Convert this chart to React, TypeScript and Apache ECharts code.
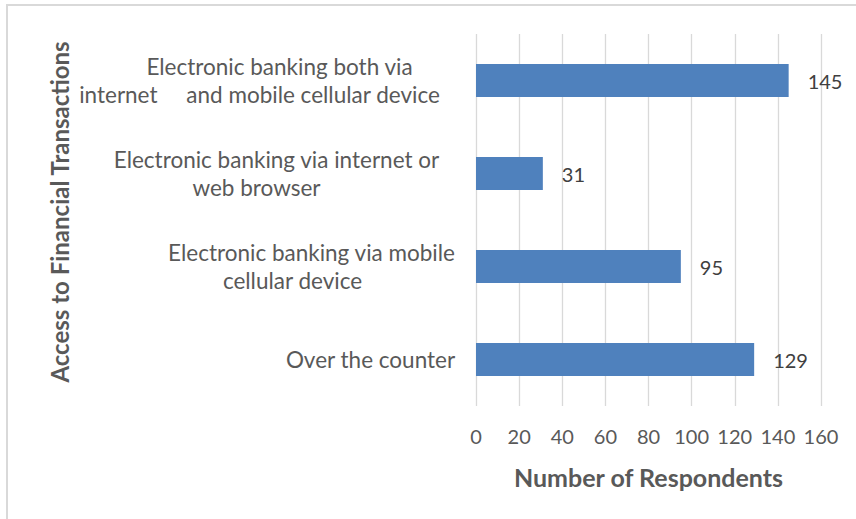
import React, { useEffect, useRef } from "react";
import * as echarts from "echarts";

const categories: string[] = [
  "Electronic banking both via\ninternet     and mobile cellular device",
  "Electronic banking via internet or\nweb browser",
  "Electronic banking via mobile\ncellular device",
  "Over the counter",
];
const respondents: number[] = [145, 31, 95, 129];
const xMin = 0;
const xMax = 160;
const xStep = 20;
const xTitle = "Number of Respondents";
const yTitle = "Access to Financial Transactions";

// distance (px) of each label line's centre from the label anchor (styling only)
const lineOffsets: number[][] = [
  [173, 193],
  [176, 196],
  [141, 160],
  [82],
];

const FONT = "Lato, 'Open Sans', sans-serif";
const GRAY = "#595959";

export default function App() {
  const ref = useRef<HTMLDivElement>(null);
  useEffect(() => {
    if (!ref.current) return;
    const chart = echarts.init(ref.current, undefined, { renderer: "svg" });
    const T = 220;
    const rich: Record<string, any> = {};
    lineOffsets.forEach((lines, i) =>
      lines.forEach((pr, j) => {
        rich[`l${i}_${j}`] = {
          width: 1,
          align: "center",
          padding: [0, pr, 0, T - 1 - pr],
          lineHeight: 28,
          fontSize: 22.5,
          fontFamily: FONT,
          color: GRAY,
        };
      })
    );
    chart.setOption({
      animation: false,
      backgroundColor: "#ffffff",
      graphic: [
        {
          type: "rect",
          shape: { x: 7, y: 5, width: 900, height: 560 },
          style: { fill: "none", stroke: "#d9d9d9", lineWidth: 2 },
          silent: true,
          z: -1,
        },
      ],
      grid: { left: 476, right: 35, top: 34, bottom: 113, containLabel: false },
      xAxis: {
        type: "value",
        min: xMin,
        max: xMax,
        interval: xStep,
        axisLine: { show: false },
        axisTick: { show: false },
        splitLine: { show: true, lineStyle: { color: "#d9d9d9", width: 1.3 } },
        axisLabel: { color: GRAY, fontSize: 20, fontFamily: FONT, margin: 20 },
        name: xTitle,
        nameLocation: "middle",
        nameGap: 58,
        nameMoveOverlap: false,
        nameTextStyle: { color: GRAY, fontSize: 25, fontWeight: "bold", fontFamily: FONT },
      },
      yAxis: {
        type: "category",
        inverse: true,
        data: categories,
        axisLine: { show: false },
        axisTick: { show: false },
        splitLine: { show: false },
        axisLabel: {
          interval: 0,
          align: "right",
          margin: 23,
          color: GRAY,
          fontSize: 22.5,
          fontFamily: FONT,
          formatter: (value: string, index: number) =>
            value
              .split("\n")
              .map((line, j) => `{l${index}_${j}|${line}}`)
              .join("\n"),
          rich,
        },
        name: yTitle,
        nameLocation: "middle",
        nameRotate: 90,
        nameGap: 405,
        nameMoveOverlap: false,
        nameTextStyle: {
          color: GRAY,
          fontSize: 24,
          fontWeight: "bold",
          fontFamily: FONT,
          padding: [0, 0, 0, 16],
        },
      },
      series: [
        {
          type: "bar",
          data: respondents,
          barWidth: 33,
          itemStyle: { color: "#4f81bd" },
          label: {
            show: true,
            position: "right",
            distance: 19,
            color: "#404040",
            fontSize: 20,
            fontFamily: FONT,
          },
        },
      ],
    });
    return () => chart.dispose();
  }, []);
  return (
    <div
      ref={ref}
      style={{ position: "fixed", left: 0, top: 0, width: 856, height: 519 }}
    />
  );
}
